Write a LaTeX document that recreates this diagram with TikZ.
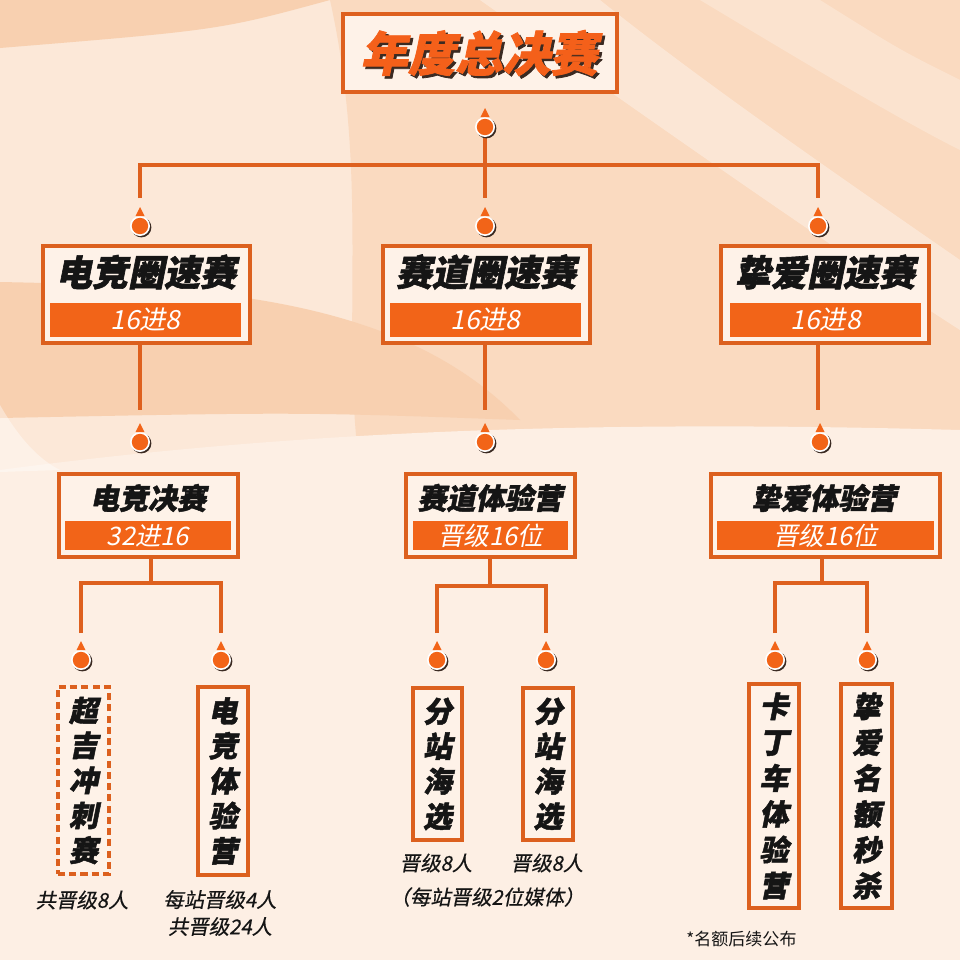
\documentclass[tikz,border=0pt]{standalone}
\usepackage{fontspec}
\newfontfamily\hvI{Noto Sans CJK SC}[FakeSlant=0.2]
\newfontfamily\hvH{Noto Sans CJK SC}[FakeSlant=0.2, FakeBold=1.6]
\newfontfamily\hvM{Noto Sans CJK SC}[FakeSlant=0.2, FakeBold=0.5]
\newfontfamily\hv{Noto Sans CJK SC}
\usetikzlibrary{fit}
\definecolor{bgbase}{HTML}{FCE8D8}
\definecolor{bgdark}{HTML}{F8D0B0}
\definecolor{bglight}{HTML}{FDEFE4}
\definecolor{boxf}{HTML}{FEF2E8}
\definecolor{bandc}{HTML}{F26418}
\definecolor{brd}{HTML}{DC601E}
\definecolor{lnc}{HTML}{DE601E}
\definecolor{orc}{HTML}{F26418}
\definecolor{ttlc}{HTML}{F4601A}
\definecolor{shd}{HTML}{3A2A22}
\definecolor{txt}{HTML}{151515}
\begin{document}
\begin{tikzpicture}[x=0.02cm,y=-0.02cm,
  conn/.style={draw=lnc, line width=1.8pt},
  frame/.style={draw=brd, line width=1.9pt, fill=boxf, inner sep=0pt},
  bandbox/.style={fill=bandc, inner sep=0pt},
  lvtwo/.style={inner sep=0pt, text=txt, font=\hvH\bfseries\fontsize{20.5}{22}\selectfont},
  lvthree/.style={inner sep=0pt, text=txt, font=\hvH\bfseries\fontsize{16.5}{18}\selectfont},
  bandtxt/.style={inner sep=0pt, text=white, font=\hvI\fontsize{15}{16}\selectfont},
  bandtxts/.style={inner sep=0pt, text=white, font=\hvI\fontsize{14.5}{16}\selectfont},
  vtxt/.style={inner sep=0pt, align=center, text=txt, font=\hvH\bfseries\fontsize{16.5}{19.9}\selectfont},
  lbl/.style={inner sep=0pt, align=center, text=txt, font=\hvM\fontsize{11.6}{15.3}\selectfont},
  mk/.pic={
    \fill[shd] (1.4,1.4) circle[radius=10];
    \fill[white] (0,0) circle[radius=10];
    \fill[orc] (0,0) circle[radius=8.2];
    \fill[orc] (-4.5,-10) -- (0,-19) -- (4.5,-10) -- cycle;
  }]
\useasboundingbox (0,0) rectangle (960,960);
% background
\fill[bgbase] (0,0) rectangle (960,960);
\fill[bgdark] (0,0) -- (330,0) .. controls (220,30) .. (0,48) -- cycle;
\fill[bgdark!60!bgbase] (330,0) .. controls (370,180) and (340,330) .. (360,470) -- (960,470) -- (960,0) -- cycle;
\fill[white, opacity=0.35] (480,0) .. controls (650,120) and (820,240) .. (960,330) -- (960,260) .. controls (830,170) and (700,80) .. (600,0) -- cycle;
\fill[white, opacity=0.25] (700,0) .. controls (800,60) and (900,120) .. (960,150) -- (960,80) .. controls (900,50) .. (820,0) -- cycle;
\fill[bgdark] (0,282) .. controls (200,286) and (400,295) .. (520,420) .. controls (300,412) .. (0,418) -- cycle;
\fill[bglight] (0,470) .. controls (300,430) and (600,420) .. (960,430) -- (960,960) -- (0,960) -- cycle;
\fill[white, opacity=0.4] (0,405) .. controls (20,440) and (40,460) .. (60,470) -- (0,472) -- cycle;

% title
\node[draw=lnc, line width=2.3pt, fill=boxf, inner sep=0pt, fit={(343,14) (617,92)}] (tbox) {};
\node[inner sep=0pt, text=shd, font=\hvH\bfseries\fontsize{27}{30}\selectfont] (tsh) at (481.5,55.5) {年度总决赛};
\node[inner sep=0pt, text=ttlc, font=\hvH\bfseries\fontsize{27}{30}\selectfont] (ttl) at (479,53) {年度总决赛};

% level 1 -> level 2 connectors
\coordinate (m0) at (485,127);
\coordinate (bus0) at (485,165);
\coordinate (e1) at (140,198);
\coordinate (e2) at (485,198);
\coordinate (e3) at (818,198);
\draw[conn] (m0) -- (bus0);
\draw[conn] (e1) |- (bus0) -| (e3);
\draw[conn] (bus0) -- (e2);

% level 2 boxes
\node[frame, fit={(43,246) (250,343)}] (b21) {};
\node[frame, fit={(383,246) (590,343)}] (b22) {};
\node[frame, fit={(721,246) (929,343)}] (b23) {};
\node[bandbox, fit={(50,303) (241,337)}] (r21) {};
\node[bandbox, fit={(390,303) (581,337)}] (r22) {};
\node[bandbox, fit={(730,303) (921,337)}] (r23) {};
\node[lvtwo] (t21) at (146,272) {电竞圈速赛};
\node[lvtwo] (t22) at (486,272) {赛道圈速赛};
\node[lvtwo] (t23) at (825,272) {挚爱圈速赛};
\node[bandtxt] (s21) at (r21.center) {16进8};
\node[bandtxt] (s22) at (r22.center) {16进8};
\node[bandtxt] (s23) at (r23.center) {16进8};

% level 2 -> level 3 connectors
\coordinate (d1) at (140,410);
\coordinate (d2) at (485,410);
\coordinate (d3) at (818,410);
\draw[conn] (d1 |- b21.south) -- (d1);
\draw[conn] (d2 |- b22.south) -- (d2);
\draw[conn] (d3 |- b23.south) -- (d3);

% level 3 boxes
\node[frame, fit={(59,474) (238,557)}] (b31) {};
\node[frame, fit={(406,474) (575,557)}] (b32) {};
\node[frame, fit={(711,474) (940,557)}] (b33) {};
\node[bandbox, fit={(65,521) (231,550)}] (r31) {};
\node[bandbox, fit={(413,521) (568,550)}] (r32) {};
\node[bandbox, fit={(717,521) (934,550)}] (r33) {};
\node[lvthree] (t31) at (148,498) {电竞决赛};
\node[lvthree] (t32) at (490,498) {赛道体验营};
\node[lvthree] (t33) at (824,498) {挚爱体验营};
\node[bandtxts] (s31) at (r31.center) {32进16};
\node[bandtxts] (s32) at (r32.center) {晋级16位};
\node[bandtxts] (s33) at (r33.center) {晋级16位};

% level 3 -> level 4 connectors
\coordinate (h1) at (151,583);
\coordinate (h2) at (490,586);
\coordinate (h3) at (822,583);
\coordinate (f11) at (81,633);
\coordinate (f12) at (221,633);
\coordinate (f21) at (437,633);
\coordinate (f22) at (546,633);
\coordinate (f31) at (775,633);
\coordinate (f32) at (867,633);
\draw[conn] (h1 |- b31.south) -- (h1);
\draw[conn] (h2 |- b32.south) -- (h2);
\draw[conn] (h3 |- b33.south) -- (h3);
\draw[conn] (f11) |- (h1) -| (f12);
\draw[conn] (f21) |- (h2) -| (f22);
\draw[conn] (f31) |- (h3) -| (f32);

% markers
\coordinate (k1) at (140,226);
\coordinate (k2) at (485,226);
\coordinate (k3) at (818,226);
\coordinate (n1) at (140,442);
\coordinate (n2) at (485,442);
\coordinate (n3) at (820,442);
\coordinate (p11) at (81,660);
\coordinate (p12) at (221,660);
\coordinate (p21) at (437,660);
\coordinate (p22) at (546,660);
\coordinate (p31) at (775,660);
\coordinate (p32) at (867,660);
\foreach \c in {m0,k1,k2,k3,n1,n2,n3,p11,p12,p21,p22,p31,p32} {
  \pic at (\c) {mk};
}

% level 4 boxes
\node[draw=brd, line width=1.9pt, dash pattern=on 4pt off 2.4pt, fill=boxf, inner sep=0pt, fit={(58,687) (109,874)}] (b41) {};
\node[frame, fit={(198,687) (248,875)}] (b42) {};
\node[frame, fit={(413,688) (462,840)}] (b43) {};
\node[frame, fit={(523,688) (573,840)}] (b44) {};
\node[frame, fit={(749,684) (799,908)}] (b45) {};
\node[frame, fit={(841,684) (892,908)}] (b46) {};
\node[vtxt] (v41) at (b41.center) {超\\吉\\冲\\刺\\赛};
\node[vtxt] (v42) at (b42.center) {电\\竞\\体\\验\\营};
\node[vtxt] (v43) at (b43.center) {分\\站\\海\\选};
\node[vtxt] (v44) at (b44.center) {分\\站\\海\\选};
\node[vtxt, font=\hvH\bfseries\fontsize{16.5}{20.4}\selectfont] (v45) at (b45.center) {卡\\丁\\车\\体\\验\\营};
\node[vtxt, font=\hvH\bfseries\fontsize{16.5}{20.4}\selectfont] (v46) at (b46.center) {挚\\爱\\名\\额\\秒\\杀};

% labels
\node[lbl] (l41) at (82,900) {共晋级8人};
\node[lbl] (l42) at (220,913) {每站晋级4人\\共晋级24人};
\node[lbl] (l43) at (436,863) {晋级8人};
\node[lbl] (l44) at (547,863) {晋级8人};
\node[lbl] (l45) at (487,897) {（每站晋级2位媒体）};
\node[inner sep=0pt, anchor=west, text=txt, font=\hv\fontsize{9.7}{11}\selectfont] (note) at (686,939) {*名额后续公布};
\end{tikzpicture}
\end{document}
